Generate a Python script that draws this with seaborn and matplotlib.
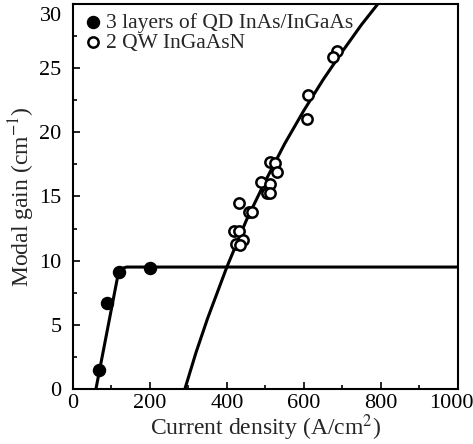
import numpy as np
import pandas as pd
import matplotlib
matplotlib.use('Agg')
import matplotlib.pyplot as plt
import matplotlib.transforms as mtrans
import seaborn as sns

# quantum dot points (filled)
qd_j = [69, 89, 121, 201]
qd_g = [1.5, 6.7, 9.1, 9.45]
# quantum well points (open)
qw_j = [687, 676, 611, 608, 513, 525, 531, 489, 513, 505, 513, 432, 458, 466, 419, 432, 443, 423, 434]
qw_g = [26.3, 25.9, 22.9, 21.0, 17.7, 17.6, 16.9, 16.1, 16.0, 15.3, 15.3, 14.5, 13.8, 13.8, 12.3, 12.3, 11.6, 11.3, 11.2]

# fit curves
qd_fit_j = [60, 118, 128, 140, 160, 1000]
qd_fit_g = [0.0, 9.0, 9.4, 9.5, 9.5, 9.5]
qw_fit_j = [291, 320, 350, 400, 450, 500, 550, 600, 650, 700, 750, 800]
qw_fit_g = [0.0, 2.85, 5.5, 9.5, 13.1, 16.2, 19.1, 21.7, 24.1, 26.3, 28.4, 30.3]

sns.set_theme(style='ticks')
plt.rcParams['font.family'] = ['Liberation Serif', 'DejaVu Serif']
plt.rcParams['mathtext.fontset'] = 'stix'

fig = plt.figure(figsize=(4.73, 4.44), dpi=100)
ax = fig.add_axes([0.154, 0.124, 0.814, 0.867])

sns.lineplot(x=qd_fit_j, y=qd_fit_g, ax=ax, color='black', lw=2.2, sort=False)
sns.lineplot(x=qw_fit_j, y=qw_fit_g, ax=ax, color='black', lw=2.2, sort=False)
ax.scatter(qd_j, qd_g, s=75, color='black', zorder=3, label='3 layers of QD InAs/InGaAs')
ax.scatter(qw_j, qw_g, s=55, facecolor='white', edgecolor='black', linewidth=1.8, zorder=3,
           label='2 QW InGaAsN')

ax.set_xlim(0, 1000)
ax.set_ylim(0, 30)
ax.set_xticks(range(0, 1001, 200))
ax.set_xticks(range(100, 1000, 200), minor=True)
ax.set_yticks(range(0, 31, 5))
ax.set_yticks(np.arange(2.5, 30, 5), minor=True)
ax.tick_params(which='both', direction='in', labelsize=16, colors='black', width=1.2)
ax.tick_params(axis='y', pad=8)
ax.tick_params(axis='x', pad=4)
ax.tick_params(which='major', length=5)
ax.tick_params(which='minor', length=3)
for s in ax.spines.values():
    s.set_linewidth(1.5)
    s.set_color('black')

# keep the edge labels inside the picture, as in the original
fig.canvas.draw()
ax.get_xticklabels()[-1].set_transform(
    ax.get_xticklabels()[-1].get_transform() + mtrans.ScaledTranslation(-7 / 100, 0, fig.dpi_scale_trans))
ax.get_yticklabels()[-1].set_transform(
    ax.get_yticklabels()[-1].get_transform() + mtrans.ScaledTranslation(0, -10 / 100, fig.dpi_scale_trans))

ax.set_xlabel('Current density (A/cm$^2$)', fontsize=17, labelpad=-1)
ax.set_ylabel('Modal gain (cm$^{-1}$)', fontsize=17, labelpad=2)

leg = ax.legend(loc='upper left', frameon=False, fontsize=15.5, handletextpad=0.05,
                borderaxespad=0.1, labelspacing=0.0, handlelength=1.1, borderpad=0.3)

fig.savefig('out.png', dpi=100)
